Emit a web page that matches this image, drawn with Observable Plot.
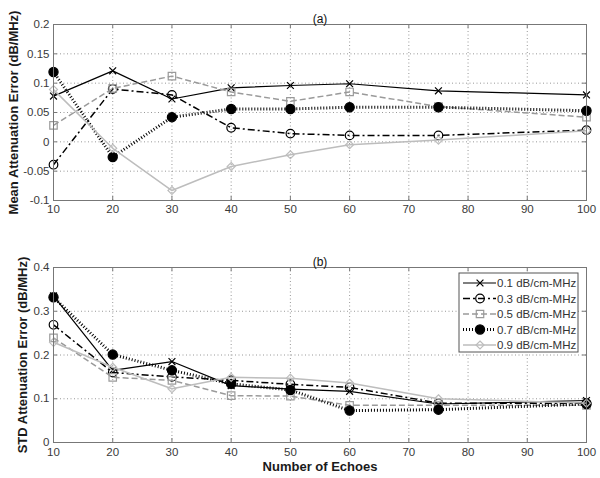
<!DOCTYPE html>
<html><head><meta charset="utf-8">
<script src="https://cdn.jsdelivr.net/npm/d3@7"></script>
<script src="https://cdn.jsdelivr.net/npm/@observablehq/plot@0.6"></script>
<style>
body{margin:0;background:#fff;}
#chart{width:600px;position:relative;background:#fff;}
#chart svg{display:block;}
</style></head><body><div id="chart"></div>
<script>
// ---- data ----
const echoes = [10, 20, 30, 40, 50, 60, 75, 100];
const seriesLabels = ["0.1 dB/cm-MHz", "0.3 dB/cm-MHz", "0.5 dB/cm-MHz", "0.7 dB/cm-MHz", "0.9 dB/cm-MHz"];

const meanErr01 = [0.078, 0.121, 0.073, 0.092, 0.096, 0.099, 0.087, 0.080];
const meanErr03 = [-0.039, 0.090, 0.080, 0.024, 0.014, 0.011, 0.011, 0.020];
const meanErr05 = [0.028, 0.091, 0.112, 0.085, 0.069, 0.085, 0.060, 0.042];
const meanErr07 = [0.119, -0.026, 0.042, 0.056, 0.056, 0.059, 0.059, 0.053];
const meanErr09 = [0.089, -0.011, -0.083, -0.042, -0.022, -0.005, 0.003, 0.019];

const stdErr01 = [0.335, 0.165, 0.185, 0.130, 0.122, 0.117, 0.088, 0.096];
const stdErr03 = [0.269, 0.160, 0.150, 0.142, 0.133, 0.126, 0.090, 0.090];
const stdErr05 = [0.239, 0.149, 0.142, 0.107, 0.106, 0.085, 0.085, 0.085];
const stdErr07 = [0.332, 0.201, 0.165, 0.134, 0.120, 0.073, 0.075, 0.088];
const stdErr09 = [0.229, 0.172, 0.123, 0.149, 0.147, 0.136, 0.100, 0.090];

const xTicks = [10, 20, 30, 40, 50, 60, 70, 80, 90, 100];
const meanTicks = [-0.1, -0.05, 0, 0.05, 0.1, 0.15, 0.2];
const stdTicks = [0, 0.1, 0.2, 0.3, 0.4];

// ---- styles ----
const styles = [
  {stroke: "#000", width: 1.2, dash: null, symbol: "times", r: 3.2, fill: "none", mstroke: "#000"},
  {stroke: "#000", width: 1.5, dash: "7,3,2,3", symbol: "circle", r: 4.3, fill: "none", mstroke: "#000"},
  {stroke: "#9a9a9a", width: 1.5, dash: "6,3", symbol: "square", r: 4.2, fill: "none", mstroke: "#9a9a9a"},
  {stroke: "#000", width: 3, dash: "1,2", symbol: "circle", r: 4.6, fill: "#000", mstroke: "#000"},
  {stroke: "#bdbdbd", width: 1.5, dash: null, symbol: "diamond2", r: 3.6, fill: "none", mstroke: "#bdbdbd"}
];
const d3Sym = {times: d3.symbolTimes, circle: d3.symbolCircle, square: d3.symbolSquare, diamond2: d3.symbolDiamond2};

const W = 600, ML = 53, MR = 14;
const fmt = d => String(+d.toFixed(2));
const FONT = "'Liberation Sans', Arial, Helvetica, sans-serif";

function panel({series, yDomain, yTicks, height, marginTop, marginBottom, title, yLabel, yLabelDx, xLabel, xPad}) {
  const innerH = height - marginTop - marginBottom;
  const innerW = W - ML - MR;
  const grid = {stroke: "#8c8c8c", strokeOpacity: 1, strokeDasharray: "1,2.5", strokeWidth: 0.9};
  const marks = [
    Plot.gridX(xTicks, grid),
    Plot.gridY(yTicks, grid),
    Plot.tickX(xTicks, {x: d => d, insetTop: innerH - 4, stroke: "#777"}),
    Plot.tickX(xTicks, {x: d => d, insetBottom: innerH - 4, stroke: "#777"}),
    Plot.tickY(yTicks, {y: d => d, insetRight: innerW - 4, stroke: "#777"}),
    Plot.tickY(yTicks, {y: d => d, insetLeft: innerW - 4, stroke: "#777"}),
    Plot.axisX(xTicks, {tickSize: 0, tickPadding: xPad, label: null, fill: "#3a3a3a", fontSize: 11.5, tickFormat: d => d}),
    Plot.axisY(yTicks, {tickSize: 0, tickPadding: 4, label: null, fill: "#3a3a3a", fontSize: 11.5, tickFormat: fmt})
  ];
  series.forEach((vals, i) => {
    const s = styles[i];
    const rows = echoes.map((n, j) => ({n, v: vals[j]}));
    marks.push(Plot.line(rows, {x: "n", y: "v", stroke: s.stroke, strokeWidth: s.width,
      strokeDasharray: s.dash || undefined, strokeLinecap: "butt", strokeLinejoin: "miter"}));
    marks.push(Plot.dot(rows, {x: "n", y: "v", symbol: () => s.symbol, r: s.r,
      fill: s.fill, stroke: s.mstroke, strokeWidth: 1.2}));
  });
  marks.push(Plot.frame({stroke: "#777", strokeWidth: 1}));
  marks.push(Plot.text([title], {text: d => d, frameAnchor: "top", dy: -10, fontSize: 12, fill: "#111"}));
  marks.push(Plot.text([yLabel], {text: d => d, frameAnchor: "left", rotate: -90, dx: yLabelDx,
    textAnchor: "middle", fontSize: 13, fontWeight: "bold", fill: "#1a1a1a"}));
  if (xLabel) marks.push(Plot.text([xLabel], {text: d => d, frameAnchor: "bottom", dy: 28,
    fontSize: 13, fontWeight: "bold", fill: "#1a1a1a"}));
  return Plot.plot({
    width: W, height, marginLeft: ML, marginRight: MR, marginTop, marginBottom,
    style: {fontFamily: FONT, background: "#fff", overflow: "visible"},
    x: {domain: [10, 100]},
    y: {domain: yDomain},
    symbol: {type: "identity"},
    marks
  });
}

const panelA = panel({
  series: [meanErr01, meanErr03, meanErr05, meanErr07, meanErr09],
  yDomain: [-0.1, 0.2], yTicks: meanTicks, height: 232, marginTop: 24, marginBottom: 32,
  title: "(a)", yLabel: "Mean Attenuation Error (dB/MHz)", yLabelDx: -40, xPad: 4
});
const panelB = panel({
  series: [stdErr01, stdErr03, stdErr05, stdErr07, stdErr09],
  yDomain: [0, 0.4], yTicks: stdTicks, height: 246, marginTop: 35, marginBottom: 36,
  title: "(b)", yLabel: "STD Attenuation Error (dB/MHz)", yLabelDx: -31, xLabel: "Number of Echoes", xPad: 5
});
const chart = document.getElementById("chart");
chart.appendChild(panelA);
chart.appendChild(panelB);

// ---- legend (inside panel b, upper right) ----
const svg = d3.select(panelB);
const lg = svg.append("g").attr("font-family", FONT).attr("font-size", 11.5).attr("text-anchor", "start");
const bx = 459, by = 41, bw = 119, bh = 79, step = 15.5;
lg.append("rect").attr("x", bx).attr("y", by).attr("width", bw).attr("height", bh)
  .attr("fill", "#fff").attr("stroke", "#555").attr("stroke-width", 1);
seriesLabels.forEach((lab, i) => {
  const s = styles[i];
  const y = by + 10 + i * step;
  lg.append("line").attr("x1", bx + 4).attr("x2", bx + 37).attr("y1", y).attr("y2", y)
    .attr("stroke", s.stroke).attr("stroke-width", s.width)
    .attr("stroke-dasharray", s.dash || null);
  lg.append("path").attr("transform", `translate(${bx + 21},${y})`)
    .attr("d", d3.symbol(d3Sym[s.symbol], s.r * s.r * Math.PI)())
    .attr("fill", s.fill).attr("stroke", s.mstroke).attr("stroke-width", 1.2);
  lg.append("text").attr("x", bx + 38).attr("y", y).attr("dy", "0.35em")
    .attr("fill", "#333").text(lab);
});
</script></body></html>
